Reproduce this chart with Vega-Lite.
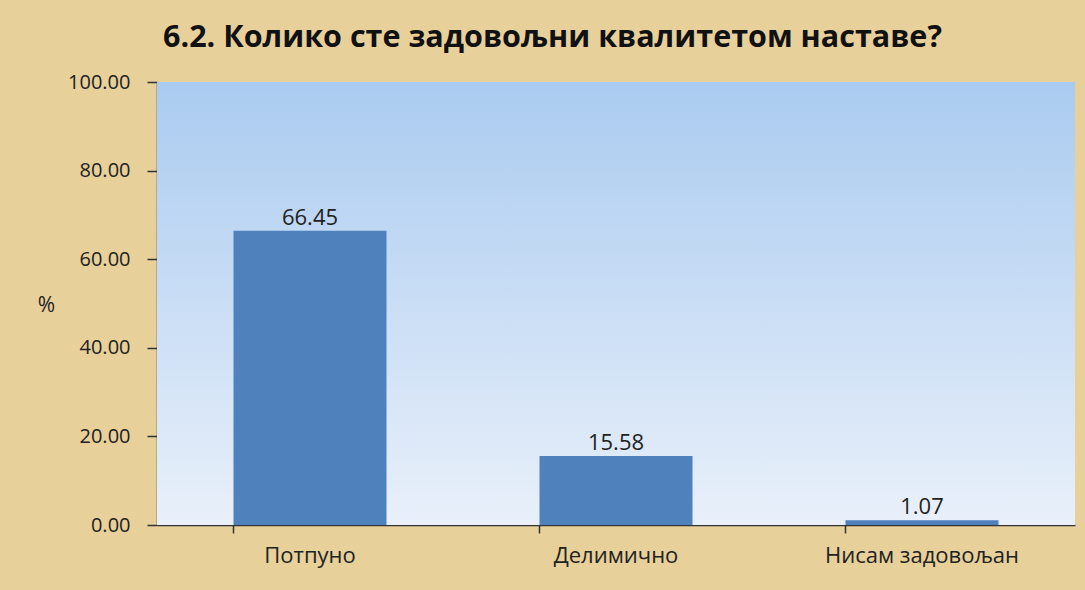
{
  "$schema": "https://vega.github.io/schema/vega-lite/v6.json",
  "width": 918,
  "height": 443,
  "autosize": {"type": "none"},
  "padding": {"left": 157, "top": 82, "right": 10, "bottom": 65},
  "background": "#e8d09b",
  "title": {
    "text": "6.2. Колико сте задовољни квалитетом наставе?",
    "font": "Open Sans",
    "fontSize": 30.5,
    "fontWeight": "bold",
    "color": "#111111",
    "anchor": "start",
    "frame": "group",
    "dx": 6,
    "baseline": "alphabetic",
    "offset": -5
  },
  "config": {
    "view": {"stroke": null},
    "axis": {
      "labelFont": "Open Sans",
      "labelFontSize": 20,
      "labelColor": "#222222",
      "labelLimit": 0,
      "domainColor": "#333333",
      "domainWidth": 1.5,
      "tickColor": "#333333",
      "tickWidth": 1.5,
      "grid": false
    }
  },
  "data": {
    "values": [
      {"category": "Потпуно", "pct": 66.45},
      {"category": "Делимично", "pct": 15.58},
      {"category": "Нисам задовољан", "pct": 1.07}
    ]
  },
  "layer": [
    {
      "data": {"values": [{"bg": 1}]},
      "mark": {
        "type": "rect",
        "color": {
          "gradient": "linear",
          "x1": 0, "y1": 0, "x2": 0, "y2": 1,
          "stops": [
            {"offset": 0, "color": "#aacbf0"},
            {"offset": 1, "color": "#e9f0fa"}
          ]
        }
      },
      "encoding": {}
    },
    {
      "mark": {"type": "bar", "color": "#4f81bd"},
      "encoding": {
        "x": {
          "field": "category",
          "type": "nominal",
          "sort": null,
          "scale": {"paddingInner": 0.5, "paddingOuter": 0.25},
          "axis": {
            "title": null,
            "labelAngle": 0,
            "labelFontSize": 22,
            "labelLimit": 0,
            "bandPosition": 0,
            "tickSize": 8,
            "labelPadding": 12
          }
        },
        "y": {
          "field": "pct",
          "type": "quantitative",
          "scale": {"domain": [0, 100]},
          "axis": {
            "title": "%",
            "titleAngle": 0,
            "titleFont": "Open Sans",
            "titleFontSize": 21,
            "titleFontWeight": "normal",
            "titleColor": "#222222",
            "titleX": -111,
            "titleY": 223,
            "titleAlign": "center",
            "titleBaseline": "middle",
            "values": [0, 20, 40, 60, 80, 100],
            "format": ".2f",
            "tickSize": 10,
            "labelPadding": 17
          }
        }
      }
    },
    {
      "mark": {
        "type": "text",
        "baseline": "bottom",
        "dy": -1,
        "font": "Open Sans",
        "fontSize": 22,
        "color": "#222222"
      },
      "encoding": {
        "x": {"field": "category", "type": "nominal", "sort": null},
        "y": {"field": "pct", "type": "quantitative"},
        "text": {"field": "pct", "type": "quantitative", "format": ".2f"}
      }
    }
  ]
}
